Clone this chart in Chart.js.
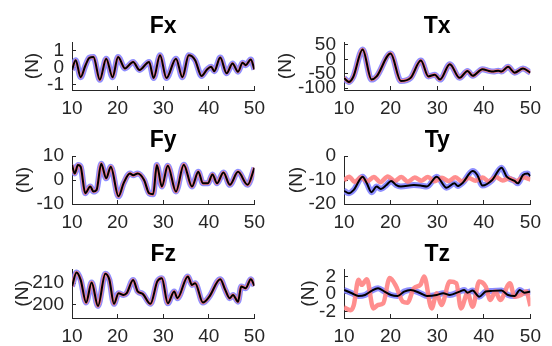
<!DOCTYPE html>
<html>
<head>
<meta charset="utf-8">
<script src="https://cdn.jsdelivr.net/npm/chart.js@4"></script>
<style>
body { margin: 0; background: #fff; }
#wrap { position: relative; width: 552px; height: 346px; background: #fff; }
#wrap canvas { position: absolute; }
</style>
</head>
<body>
<div id="wrap"></div>
<script>
"use strict"

// ---- data ----
const xTicks = [10, 20, 30, 40, 50]

const fxX = [10, 10.8, 11.9, 12.9, 13.8, 14.7, 16.1, 17.5, 18.9, 20.1, 21.6, 23.4, 24.8, 26.9, 27.9, 29.3, 30.7, 32.8, 34.2, 35.6, 37.0, 38.4, 39.6, 40.5, 41.2, 42.5, 43.9, 45.2, 46.4, 47.4, 48.1, 49.2, 50]
const fxY = [-0.13, 0.44, -0.55, 0.1, 0.58, 0.62, -0.7, 0.53, -0.55, 0.63, -0.04, 0.34, -0.13, 0.34, -0.6, 0.72, -0.6, 0.53, -0.55, 0.72, 0.44, -0.48, -0.1, 0.05, -0.2, 0.59, -0.32, 0.25, -0.23, 0.29, 0.15, 0.48, -0.1]
const fxTicks = [-1, 0, 1]

const txX = [10, 10.7, 11.05, 12.0, 14.0, 15.9, 17.0, 20.0, 22.2, 24.3, 26.5, 28.1, 29.5, 30.6, 32.7, 34.8, 36.5, 37.6, 39.7, 41.1, 42.1, 43.1, 43.8, 45.2, 46.6, 48.4, 50]
const txY = [-64, -75, -78, -60, 34, -70, -59, 20, -75, -64, -4, -59, -53, -70, -17, -64, -40, -57, -34, -40, -42, -39, -42, -26, -46, -32, -46]
const txTicks = [-100, -50, 0, 50]

const fyX = [10, 10.6, 11.3, 11.9, 12.9, 14.0, 14.7, 15.4, 16.4, 17.5, 18.5, 20.2, 21.3, 22.7, 23.4, 24.4, 25.8, 26.9, 27.8, 28.6, 29.7, 31.0, 32.8, 34.5, 36.3, 37.7, 38.7, 39.8, 40.8, 41.8, 43.2, 44.6, 46.4, 48.5, 50]
const fyY = [6.2, 2.7, 6.2, 5.5, -5.5, -2.7, -4.8, -4.1, 6.8, 0.7, 5.5, -6.8, -1.4, 2.7, 2.0, 2.7, 0, -5.5, -5.9, 6.2, -2.7, 5.9, -4.8, 6.4, -2.7, 3.4, -1.4, -1.4, 2.3, -1.4, 3.1, -2.0, 3.4, -2.0, 5.1]
const fyTicks = [-10, 0, 10]

const tyX = [10, 11.05, 12.1, 14.0, 14.9, 15.9, 17.0, 17.9, 19.1, 20.1, 21.2, 22.2, 25.0, 26.4, 27.8, 29.9, 32.0, 33.7, 34.4, 35.5, 37.6, 38.6, 39.7, 41.8, 43.8, 44.9, 46.6, 47.3, 48.4, 49.4, 50]
const tyY = [-14.5, -15.5, -14.1, -8.6, -11.4, -15.1, -12.7, -13.7, -12.1, -10.4, -12.1, -12.7, -12.1, -12.3, -12.7, -8.6, -13.2, -11.4, -12.5, -11.1, -6.3, -7.9, -12.3, -10.0, -4.9, -8.6, -10.4, -11.4, -7.9, -7.3, -8.4]
const tyRedX = [10, 11.1, 12.3, 13.6, 15.0, 16.4, 17.8, 19.4, 20.9, 22.3, 23.7, 25.2, 26.6, 28.0, 29.5, 31.0, 32.4, 33.9, 35.3, 36.8, 38.2, 39.7, 41.1, 42.6, 44.0, 45.5, 46.9, 48.4, 50]
const tyRedY = [-10.2, -8.6, -10.8, -8.9, -10.6, -8.7, -10.9, -8.5, -10.4, -8.8, -10.7, -9.0, -10.3, -8.7, -10.5, -9.1, -10.4, -8.9, -10.6, -9.2, -10.3, -9.0, -10.5, -8.8, -10.2, -9.3, -10.6, -8.9, -9.8]
const tyTicks = [-20, -10, 0]

const fzX = [10, 11.0, 11.9, 13.1, 14.3, 15.7, 17.3, 18.2, 19.2, 20.2, 21.3, 22.0, 23.4, 24.4, 25.5, 27.2, 28.7, 29.7, 31.0, 32.4, 33.1, 35.4, 36.3, 37.0, 38.7, 40.1, 42.5, 43.6, 44.6, 45.3, 46.4, 47.1, 48.1, 49.2, 50]
const fzY = [208.5, 214.9, 211.5, 201.1, 210.3, 199.5, 214.3, 211.5, 200.5, 205.4, 204.6, 205.4, 211.5, 206.2, 205.1, 200.5, 210.8, 212.3, 200.8, 206.2, 203.1, 213.1, 209.2, 210.0, 201.1, 203.8, 211.8, 206.9, 203.1, 204.6, 201.5, 208.5, 207.7, 211.8, 208.8]
const fzTicks = [200, 210]

const tzX = [10, 11.7, 13.1, 14.5, 15.9, 17.3, 18.7, 20.1, 21.5, 22.9, 24.3, 26.4, 27.8, 29.9, 31.3, 32.7, 34.8, 35.8, 36.5, 37.6, 39.0, 40.4, 41.8, 43.8, 45.2, 46.6, 47.7, 48.7, 50]
const tzY = [0.46, 0.08, -0.23, -0.12, 0.35, 0.65, 0.27, -0.12, -0.23, 0.27, 0.46, 0.08, -0.23, -0.12, 0.08, -0.12, 0.27, 0.46, 0.15, 0.38, -0.31, 0.27, 0.35, 0.38, -0.12, -0.23, 0.46, 0.15, 0.27]
const tzRedX = [10, 11.4, 12.1, 13.1, 13.8, 14.9, 16.3, 17.3, 18.4, 19.8, 21.2, 22.6, 23.6, 25.0, 26.4, 27.2, 28.8, 29.9, 30.9, 32.7, 34.1, 35.1, 36.5, 37.6, 39.0, 40.4, 41.4, 42.5, 43.5, 45.6, 46.6, 48.0, 49.1, 50]
const tzRedY = [-1.54, -1.85, -1.27, 1.62, 1.04, 1.69, -1.65, -1.27, -1.08, 1.81, 0.85, -0.88, -1.0, 0.65, 1.04, 2.0, -1.65, 0.08, -1.27, 1.42, 1.23, -1.65, 0.08, -1.46, 1.42, 0.85, -0.69, 0.27, -0.69, 1.23, -0.31, -0.12, 0.27, -1.38]
const tzTicks = [-2, 0, 2]

// ---- look ----
const fontFamily = "'Liberation Sans', Arial, Helvetica, sans-serif"
const axisColor = "#262626"
const blueColor = "rgba(130,130,255,0.9)"
const redColor = "rgba(255,130,130,0.9)"

const wrap = document.getElementById("wrap")

function toPoints(xs, ys){
    return xs.map((x, i) => ({x: x, y: ys[i]}))
}

function lineSet(xs, ys, color, width){
    return {
        data: toPoints(xs, ys),
        borderColor: color,
        borderWidth: width,
        pointRadius: 0,
        fill: false,
        cubicInterpolationMode: "monotone",
    }
}

function makePanel(p){
    const canvas = document.createElement("canvas")
    canvas.width = 276
    canvas.height = p.h
    canvas.style.left = p.left + "px"
    canvas.style.top = p.top + "px"
    wrap.appendChild(canvas)

    // black on top, then red, blue underneath
    const datasets = [
        lineSet(p.x, p.y, "#000", 2),
        lineSet(p.redX || p.x, p.redY || p.y, redColor, p.redW),
        lineSet(p.x, p.y, blueColor, 6),
    ]

    const tickFont = {family: fontFamily, size: 19}

    new Chart(canvas, {
        type: "line",
        data: {datasets: datasets},
        options: {
            animation: false,
            responsive: false,
            devicePixelRatio: 1,
            layout: {padding: {left: 0, right: p.padR, top: 0, bottom: 0}},
            plugins: {
                legend: {display: false},
                tooltip: {enabled: false},
                title: {
                    display: true,
                    text: p.title,
                    fullSize: false,
                    color: "#000",
                    font: {family: fontFamily, size: 23, weight: "bold"},
                    padding: {top: p.titleTop, bottom: p.titleBottom},
                },
            },
            scales: {
                x: {
                    type: "linear",
                    min: 10,
                    max: 50,
                    afterBuildTicks: s => { s.ticks = xTicks.map(v => ({value: v})) },
                    afterFit: s => { s.height = p.xH },
                    grid: {display: true, drawOnChartArea: false, drawTicks: true, tickLength: -4, color: axisColor},
                    border: {display: true, color: axisColor, width: 1},
                    ticks: {color: axisColor, font: tickFont, padding: 11, maxRotation: 0, autoSkip: false},
                },
                y: {
                    type: "linear",
                    min: p.min,
                    max: p.max,
                    afterBuildTicks: s => { s.ticks = p.ticks.map(v => ({value: v})) },
                    afterFit: s => { s.width = p.yW },
                    grid: {display: true, drawOnChartArea: false, drawTicks: true, tickLength: -4, color: axisColor},
                    border: {display: true, color: axisColor, width: 1},
                    ticks: {color: axisColor, font: tickFont, padding: 12, autoSkip: false},
                    title: {
                        display: true,
                        text: "(N)",
                        color: axisColor,
                        font: {family: fontFamily, size: 19},
                        padding: {top: p.labelPad, bottom: 0},
                    },
                },
            },
        },
    })
}

const panels = [
    {title: "Fx", x: fxX, y: fxY, redW: 3, min: -1.3, max: 1.5, ticks: fxTicks,
     left: 0, top: 0, h: 115, padR: 13, yW: 72, xH: 25, titleTop: 13, titleBottom: 1.4, labelPad: 21},
    {title: "Tx", x: txX, y: txY, redW: 3.5, min: -106, max: 60, ticks: txTicks,
     left: 276, top: 0, h: 115, padR: 17, yW: 68, xH: 25, titleTop: 13, titleBottom: 1.4, labelPad: -2},
    {title: "Fy", x: fyX, y: fyY, redW: 3.5, min: -10, max: 10, ticks: fyTicks,
     left: 0, top: 115, h: 115, padR: 13, yW: 72, xH: 26, titleTop: 12, titleBottom: 1.4, labelPad: 12.6},
    {title: "Ty", x: tyX, y: tyY, redX: tyRedX, redY: tyRedY, redW: 4.5, min: -20, max: 0, ticks: tyTicks,
     left: 276, top: 115, h: 115, padR: 17, yW: 68, xH: 26, titleTop: 12, titleBottom: 1.4, labelPad: 9.6},
    {title: "Fz", x: fzX, y: fzY, redW: 3.5, min: 194, max: 216.5, ticks: fzTicks,
     left: 0, top: 230, h: 116, padR: 13, yW: 72, xH: 28, titleTop: 11, titleBottom: 0.4, labelPad: 11},
    {title: "Tz", x: tzX, y: tzY, redX: tzRedX, redY: tzRedY, redW: 4.5, min: -2.75, max: 2.85, ticks: tzTicks,
     left: 276, top: 230, h: 116, padR: 17, yW: 68, xH: 28, titleTop: 11, titleBottom: 0.4, labelPad: 21},
]

panels.forEach(makePanel)
</script>
</body>
</html>
